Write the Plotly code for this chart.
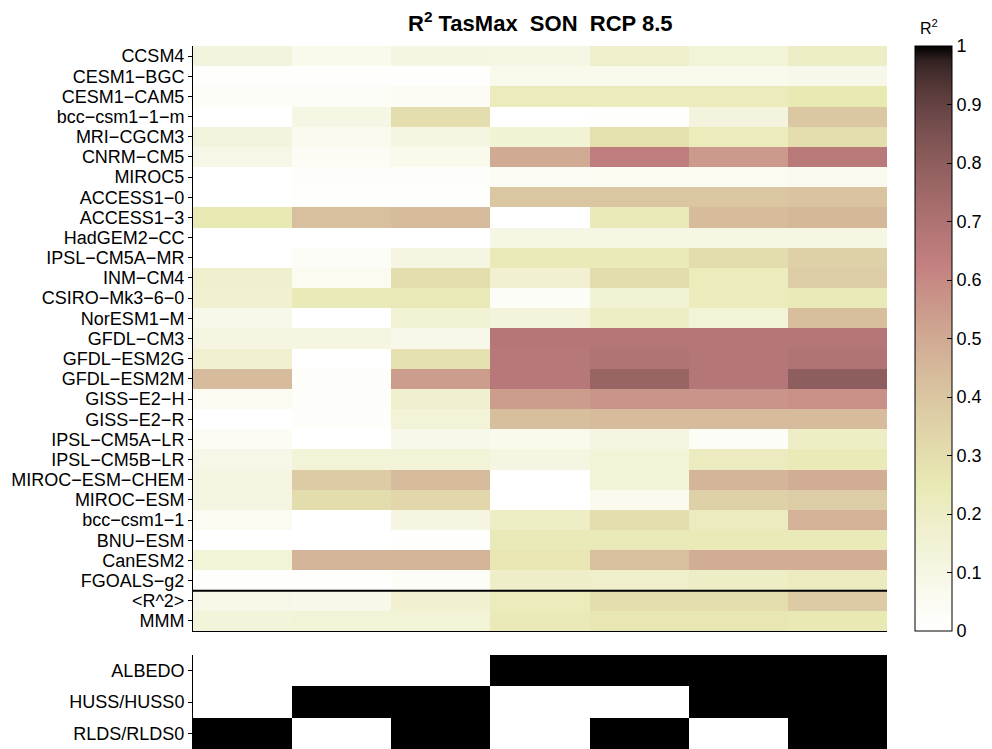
import numpy as np
import plotly.graph_objects as go
import html

# ---------------- data ----------------
models = ["CCSM4", "CESM1-BGC", "CESM1-CAM5", "bcc-csm1-1-m", "MRI-CGCM3", "CNRM-CM5",
          "MIROC5", "ACCESS1-0", "ACCESS1-3", "HadGEM2-CC", "IPSL-CM5A-MR", "INM-CM4",
          "CSIRO-Mk3-6-0", "NorESM1-M", "GFDL-CM3", "GFDL-ESM2G", "GFDL-ESM2M", "GISS-E2-H",
          "GISS-E2-R", "IPSL-CM5A-LR", "IPSL-CM5B-LR", "MIROC-ESM-CHEM", "MIROC-ESM",
          "bcc-csm1-1", "BNU-ESM", "CanESM2", "FGOALS-g2", "<R^2>", "MMM"]

# R^2 per predictor combination (columns left -> right)
r2_rlds = [0.12, 0.01, 0.03, 0.00, 0.12, 0.09, 0.00, 0.00, 0.25, 0.00, 0.00, 0.17, 0.16, 0.08, 0.11,
           0.16, 0.44, 0.05, 0.00, 0.04, 0.09, 0.11, 0.11, 0.05, 0.00, 0.14, 0.01, 0.09, 0.13]
r2_huss = [0.07, 0.01, 0.03, 0.10, 0.06, 0.04, 0.02, 0.01, 0.42, 0.00, 0.03, 0.05, 0.24, 0.00, 0.11,
           0.00, 0.02, 0.02, 0.02, 0.00, 0.14, 0.38, 0.31, 0.00, 0.00, 0.46, 0.01, 0.08, 0.14]
r2_huss_rlds = [0.11, 0.01, 0.04, 0.30, 0.11, 0.07, 0.02, 0.01, 0.44, 0.00, 0.11, 0.30, 0.24, 0.15, 0.08,
                0.29, 0.54, 0.17, 0.14, 0.08, 0.14, 0.44, 0.33, 0.11, 0.01, 0.46, 0.03, 0.16, 0.14]
r2_albedo = [0.10, 0.07, 0.23, 0.00, 0.15, 0.50, 0.04, 0.40, 0.00, 0.10, 0.24, 0.16, 0.03, 0.13, 0.68,
             0.67, 0.67, 0.54, 0.43, 0.07, 0.11, 0.00, 0.00, 0.20, 0.24, 0.26, 0.19, 0.23, 0.24]
r2_albedo_rlds = [0.18, 0.07, 0.23, 0.01, 0.28, 0.64, 0.05, 0.40, 0.24, 0.10, 0.24, 0.31, 0.15, 0.20, 0.68,
                  0.69, 0.77, 0.57, 0.44, 0.11, 0.14, 0.14, 0.06, 0.30, 0.24, 0.42, 0.18, 0.30, 0.26]
r2_albedo_huss = [0.14, 0.07, 0.23, 0.12, 0.23, 0.55, 0.05, 0.40, 0.44, 0.10, 0.31, 0.23, 0.23, 0.14, 0.68,
                  0.68, 0.68, 0.57, 0.44, 0.03, 0.22, 0.46, 0.36, 0.22, 0.24, 0.49, 0.20, 0.30, 0.26]
r2_all = [0.20, 0.08, 0.25, 0.39, 0.30, 0.66, 0.06, 0.41, 0.45, 0.10, 0.36, 0.37, 0.24, 0.43, 0.68,
          0.69, 0.80, 0.58, 0.44, 0.20, 0.24, 0.49, 0.37, 0.47, 0.24, 0.49, 0.22, 0.38, 0.25]

predictors = ["ALBEDO", "HUSS/HUSS0", "RLDS/RLDS0"]
use_albedo = [0, 0, 0, 1, 1, 1, 1]
use_huss = [0, 1, 1, 0, 0, 1, 1]
use_rlds = [1, 0, 1, 0, 1, 0, 1]

cbar_ticks = [0, 0.1, 0.2, 0.3, 0.4, 0.5, 0.6, 0.7, 0.8, 0.9, 1]

# ---------------- colormap (MATLAB flipud(pink)) ----------------
def pink_rev(v):
    x = 1 - v
    r = min(1.0, x / 0.375)
    g = min(1.0, max(0.0, (x - 0.375) / 0.375))
    b = min(1.0, max(0.0, (x - 0.75) / 0.25))
    c = np.sqrt((2 * x + np.array([r, g, b])) / 3)
    return "rgb(%d,%d,%d)" % tuple(int(round(255 * t)) for t in c)

colorscale = [[float(v), pink_rev(float(v))] for v in np.linspace(0, 1, 41)]

FONT = "Liberation Sans, Arial, Helvetica, sans-serif"
W, H = 992, 749

z = np.array([r2_rlds, r2_huss, r2_huss_rlds, r2_albedo, r2_albedo_rlds, r2_albedo_huss, r2_all]).T
z2 = np.array([use_albedo, use_huss, use_rlds])

ncol = z.shape[1]
nrow = len(models)
xs = list(range(ncol))
ys = list(range(nrow))
disp_models = [html.escape(m).replace("-", "\u2212") for m in models]

# layout geometry (pixels)
xl, xr = 193, 887
top1, bot1 = 46, 631
top2, bot2 = 655, 749
cb_left, cb_w = 915, 37

def py(p):
    return 1 - p / H

fig = go.Figure()
fig.add_trace(go.Heatmap(
    z=z, x=xs, y=ys, colorscale=colorscale, zmin=0, zmax=1,
    xaxis="x", yaxis="y",
    colorbar=dict(
        x=cb_left / W, xanchor="left", xpad=0, ypad=0,
        y=py(bot1), yanchor="bottom", len=(bot1 - top1) / H, lenmode="fraction",
        thickness=cb_w, thicknessmode="pixels",
        outlinecolor="black", outlinewidth=1,
        ticks="inside", ticklen=5, tickcolor="black", tickwidth=1,
        tickvals=cbar_ticks, ticktext=[("%g" % t) for t in cbar_ticks],
        tickfont=dict(family=FONT, size=18, color="black"),
    ),
))
fig.add_trace(go.Heatmap(
    z=z2, x=xs, y=list(range(len(predictors))),
    colorscale=[[0, "white"], [1, "black"]], zmin=0, zmax=1, showscale=False,
    xaxis="x2", yaxis="y2",
))

axis_font = dict(family=FONT, size=18, color="black")
fig.update_layout(
    width=W, height=H,
    margin=dict(l=0, r=0, t=0, b=0),
    paper_bgcolor="white", plot_bgcolor="white",
    xaxis=dict(domain=[xl / W, xr / W], range=[-0.5, ncol - 0.5], showticklabels=False,
               ticks="", showgrid=False, zeroline=False, showline=True, linecolor="black",
               linewidth=1, anchor="y"),
    yaxis=dict(domain=[py(bot1), py(top1)], range=[nrow - 0.5, -0.5], tickvals=ys,
               ticktext=disp_models, ticks="outside", ticklen=4, tickcolor="black",
               showgrid=False, zeroline=False, showline=True, linecolor="black", linewidth=1,
               tickfont=axis_font, automargin=False, anchor="x"),
    xaxis2=dict(domain=[xl / W, xr / W], range=[-0.5, ncol - 0.5], showticklabels=False,
                ticks="", showgrid=False, zeroline=False, showline=False, anchor="y2"),
    yaxis2=dict(domain=[0, py(top2)], range=[len(predictors) - 0.5, -0.5],
                tickvals=list(range(len(predictors))), ticktext=predictors,
                ticks="outside", ticklen=4, tickcolor="black", showgrid=False, zeroline=False,
                showline=True, linecolor="black", linewidth=1, tickfont=axis_font,
                automargin=False, anchor="x2"),
    showlegend=False,
)

# separator line between models and summary rows
sep = models.index("FGOALS-g2") + 0.5
fig.add_shape(type="line", xref="x", yref="y", x0=-0.5, x1=ncol - 0.5, y0=sep, y1=sep,
              line=dict(color="black", width=2))

# left-side colorbar ticks
cb_y0, cb_len = py(bot1), (bot1 - top1) / H
for t in cbar_ticks[1:-1]:
    fig.add_shape(type="line", xref="paper", yref="paper",
                  x0=cb_left / W, x1=(cb_left + 5) / W,
                  y0=cb_y0 + t * cb_len, y1=cb_y0 + t * cb_len,
                  line=dict(color="black", width=1))

# title and colorbar label
fig.add_annotation(x=(xl + xr) / 2 / W, y=py(22), xref="paper", yref="paper",
                   text="<b>R<sup>2</sup> TasMax\u00a0\u00a0SON\u00a0\u00a0RCP 8.5</b>",
                   showarrow=False, xanchor="center", yanchor="middle",
                   font=dict(family=FONT, size=22, color="black"))
fig.add_annotation(x=929 / W, y=py(27), xref="paper", yref="paper",
                   text="R<sup>2</sup>", showarrow=False, xanchor="center", yanchor="middle",
                   font=dict(family=FONT, size=16, color="black"))

fig.write_html("out.html", config={"displayModeBar": False},
               post_script="document.body.style.margin='0px';")
